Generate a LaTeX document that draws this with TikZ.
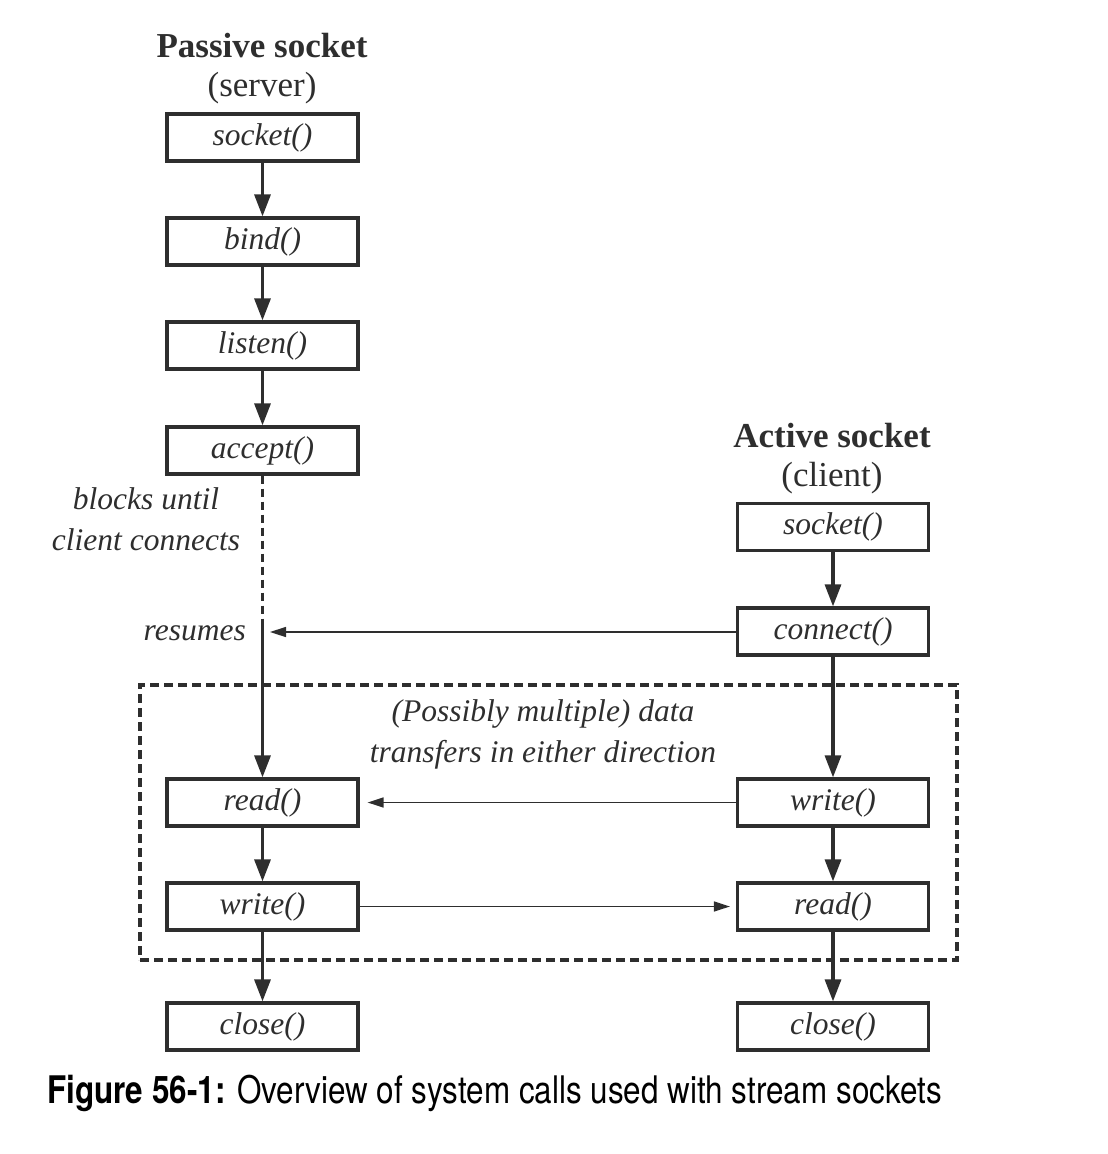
\documentclass[tikz,border=0pt]{standalone}
\usepackage{fontspec}
\setmainfont{Liberation Serif}
\newfontfamily\capfont{TeX Gyre Heros}
\usetikzlibrary{arrows.meta}
\definecolor{ink}{HTML}{2E2E2E}
\tikzset{
  callbox/.style={draw=ink, line width=3.2pt, minimum width=191pt, minimum height=47pt, inner sep=0pt, font=\fontsize{31.5}{36}\selectfont\itshape, text=ink},
  title/.style={font=\fontsize{35}{40}\selectfont, text=ink, inner sep=0pt, anchor=base},
  note/.style={font=\fontsize{31.5}{41}\selectfont\itshape, text=ink, align=center, inner sep=0pt},
  flow/.style={draw=ink, line width=3.2pt, -{Triangle[length=22pt,width=16pt]}},
  msg/.style={draw=ink, line width=1.5pt, -{Triangle[length=16pt,width=10pt]}},
}
\begin{document}
\begin{tikzpicture}[x=1pt,y=-1pt]
\useasboundingbox (0,0) rectangle (1108,1154);
% titles
\node[title] (ptitle) at (262,57) {\bfseries Passive socket};
\node[title] (psub) at (262,96) {(server)};
\node[title] (atitle) at (832,447) {\bfseries Active socket};
\node[title] (asub) at (832,486) {(client)};
% server column
\node[callbox] (ssocket) at (262.5,137.5) {socket()};
\node[callbox] (sbind) at (262.5,241.5) {bind()};
\node[callbox] (slisten) at (262.5,345.5) {listen()};
\node[callbox] (saccept) at (262.5,450.5) {accept()};
\node[callbox] (sread) at (262.5,802.5) {read()};
\node[callbox] (swrite) at (262.5,906.5) {write()};
\node[callbox] (sclose) at (262.5,1026.5) {close()};
% client column
\node[callbox] (csocket) at (833,527) {socket()};
\node[callbox] (cconnect) at (833,631.5) {connect()};
\node[callbox] (cwrite) at (833,802.5) {write()};
\node[callbox] (cread) at (833,906.5) {read()};
\node[callbox] (cclose) at (833,1026.5) {close()};
% notes
\node[note] (blocks) at (146,519) {blocks until\\client connects};
\node[note, anchor=east] (resumes) at (246,633) {resumes};
\node[note] (transfers) at (543,734) {(Possibly multiple) data\\transfers in either direction};
% dashed region
\node[draw=ink, line width=3.2pt, dash pattern=on 9pt off 5pt, minimum width=817pt, minimum height=275pt, inner sep=0pt] (region) at (548.5,822.5) {};
% server flow
\draw[flow] (ssocket) -- (sbind);
\draw[flow] (sbind) -- (slisten);
\draw[flow] (slisten) -- (saccept);
\coordinate (resumept) at (262.5,622);
\draw[draw=ink, line width=3.2pt, dash pattern=on 8pt off 5pt] (saccept.south) -- (resumept);
\draw[flow] (resumept) -- (sread.north);
\draw[flow] (sread) -- (swrite);
\draw[flow] (swrite) -- (sclose);
% client flow
\draw[flow] (csocket) -- (cconnect);
\draw[flow] (cconnect) -- (cwrite);
\draw[flow] (cwrite) -- (cread);
\draw[flow] (cread) -- (cclose);
% messages
\coordinate (resumetip) at (270,632);
\draw[msg] (cconnect.west |- resumetip) -- (resumetip);
\draw[msg] (cwrite.west) -- ([xshift=8pt]sread.east);
\draw[msg] (swrite.east) -- ([xshift=-6pt]cread.west);
% caption
\node[anchor=west, inner sep=0pt, text=black] (caption) at (47,1093) {\scalebox{0.827}[1]{\capfont\fontsize{38}{42}\selectfont\textbf{Figure 56-1:} Overview of system calls used with stream sockets}};
\end{tikzpicture}
\end{document}
